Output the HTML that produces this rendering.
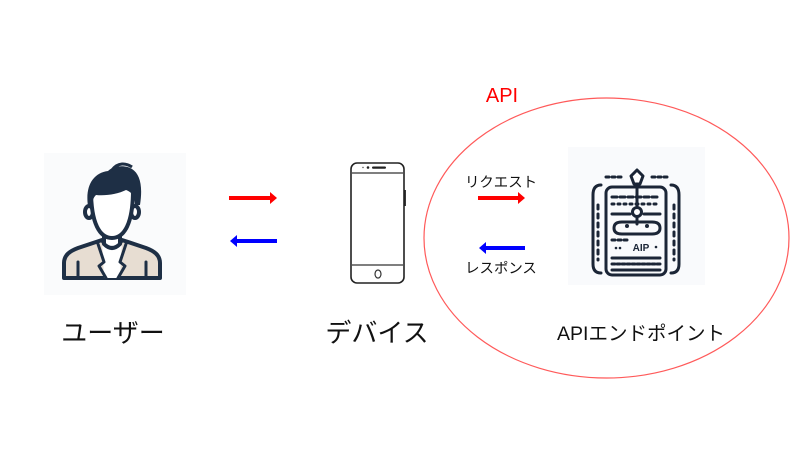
<!DOCTYPE html>
<html><head><meta charset="utf-8"><style>
html,body{margin:0;padding:0;background:#fff;}
body{width:800px;height:450px;overflow:hidden;position:relative;font-family:"Liberation Sans","Noto Sans CJK JP",sans-serif;}
</style></head><body>
<svg width="800" height="450" viewBox="0 0 800 450" xmlns="http://www.w3.org/2000/svg" style="position:absolute;left:0;top:0">
<!-- ellipse -->
<ellipse cx="606.5" cy="238" rx="182.5" ry="140" fill="none" stroke="#ff5a5a" stroke-width="1.2"/>
<text x="502" y="102" font-family="Liberation Sans, sans-serif" font-size="20" fill="#ff0000" text-anchor="middle">API</text>

<!-- user icon -->
<rect x="44" y="153" width="142" height="142" fill="#fafbfc"/>
<g stroke="#1e2f45" stroke-width="4" stroke-linejoin="round" stroke-linecap="round">
  <path d="M64,278 L64,263 C64,255 70,251 78,248 L102,240 L112,256 L122,240 L146,248 C154,251 160,255 160,263 L160,278 Z" fill="#e7ddd2"/>
  <path d="M102,240 Q112,254 122,240 L120,278 L104,278 Z" fill="#ffffff" stroke="none"/>
  <path d="M104,230 L104,244 Q112,252 120,244 L120,230" fill="#ffffff"/>
  <path d="M98,244 L104,262 L99,266 L106,278" fill="none" stroke-width="3"/>
  <path d="M126,244 L120,262 L125,266 L118,278" fill="none" stroke-width="3"/>
  <path d="M78,262 L78,278 M146,262 L146,278" fill="none" stroke-width="3"/>
  <ellipse cx="89" cy="212" rx="4" ry="6" fill="#fff"/>
  <ellipse cx="135" cy="212" rx="4" ry="6" fill="#fff"/>
  <path d="M91,190 C91,224 100,238 112,238 C124,238 133,224 133,190" fill="#ffffff"/>
</g>
<path d="M88,206 C85,186 93,173 108,171 C114,165 126,165 132,169 C140,174 143,186 140,205 L135,205 C135,197 132,192 126,190 C118,194 106,196 96,195 C93,198 92,202 92,206 Z" fill="#1e2f45"/>
<path d="M112,170 C118,162 126,163 132,167" fill="none" stroke="#1e2f45" stroke-width="3"/>

<!-- phone -->
<rect x="351" y="163" width="53" height="120" rx="6" fill="#fff" stroke="#222" stroke-width="1.6"/>
<line x1="352" y1="173" x2="403" y2="173" stroke="#333" stroke-width="1.2"/>
<line x1="352" y1="265" x2="403" y2="265" stroke="#333" stroke-width="1.2"/>
<circle cx="368" cy="167.5" r="1.3" fill="#222"/>
<circle cx="363" cy="167.5" r="0.7" fill="#444"/>
<rect x="372" y="166.5" width="14" height="2.2" rx="1.1" fill="#222"/>
<ellipse cx="378" cy="274" rx="3" ry="4" fill="none" stroke="#333" stroke-width="1.2"/>
<line x1="405" y1="190" x2="405" y2="206" stroke="#222" stroke-width="1.8"/>

<!-- arrows left -->
<rect x="229" y="196" width="42" height="4" fill="#ff0000"/>
<polygon points="270,192 277,198 270,204" fill="#ff0000"/>
<rect x="236" y="239" width="41" height="4" fill="#0000ff"/>
<polygon points="237,235 230,241 237,247" fill="#0000ff"/>

<!-- arrows right -->
<rect x="478" y="196" width="41" height="4" fill="#ff0000"/>
<polygon points="518,192 525,198 518,204" fill="#ff0000"/>
<rect x="485" y="246" width="40" height="4" fill="#0000ff"/>
<polygon points="486,242 479,248 486,254" fill="#0000ff"/>
<text x="501" y="187" font-family="Liberation Sans, Noto Sans CJK JP, sans-serif" font-size="14.4" fill="#111" text-anchor="middle">リクエスト</text>
<text x="501" y="273" font-family="Liberation Sans, Noto Sans CJK JP, sans-serif" font-size="14.4" fill="#111" text-anchor="middle">レスポンス</text>

<!-- API icon -->
<rect x="568" y="147" width="137" height="138" fill="#f9fafc"/>
<g stroke="#1b2536" fill="none" stroke-width="3" stroke-linecap="round">
  <path d="M601,185 Q593,185 593,195 L593,264 Q593,273 601,273"/>
  <path d="M671,185 Q679,185 679,195 L679,264 Q679,273 671,273"/>
  <rect x="606" y="187" width="60" height="88" rx="6"/>
  <path d="M598,205 L598,260" stroke-dasharray="4 5"/>
  <path d="M674,205 L674,260" stroke-dasharray="4 5"/>
  <path d="M606,177 L622,177 M652,177 L668,177" stroke-dasharray="3 3"/>
  <path d="M612,197 L660,197" stroke-dasharray="5 3"/>
  <path d="M612,204 L660,204" stroke-dasharray="2 4"/>
  <path d="M637,187 L637,207"/>
  <circle cx="637" cy="212" r="4.5" fill="#fff"/>
  <path d="M612,214 L630,214 M644,214 L660,214"/>
  <path d="M637,217 L637,224"/>
  <path d="M622,222 Q614,222 614,228 Q614,234 622,234 L652,234 Q660,234 660,228 Q660,222 652,222 Z"/>
  <path d="M612,240 L628,240" stroke-dasharray="3 3"/>
  <path d="M612,258 L660,258"/>
  <path d="M612,264 L660,264" stroke-dasharray="3 2"/>
  <path d="M612,270 L660,270"/>
</g>
<circle cx="627" cy="226" r="2" fill="#1b2536"/>
<circle cx="647" cy="226" r="2" fill="#1b2536"/>
<path d="M637,170 L643,176 L640,184 L634,184 L631,176 Z" fill="#fff" stroke="#1b2536" stroke-width="3" stroke-linejoin="round"/>
<text x="641" y="251" font-family="Liberation Sans, sans-serif" font-size="10" font-weight="bold" fill="#1b2536" text-anchor="middle">AIP</text>
<circle cx="616" cy="248" r="1.3" fill="#1b2536"/>
<circle cx="620" cy="248" r="1.3" fill="#1b2536"/>
<circle cx="656" cy="247" r="1.3" fill="#1b2536"/>

<!-- labels -->
<text x="113" y="342" font-family="Liberation Sans, Noto Sans CJK JP, sans-serif" font-size="26" fill="#111" text-anchor="middle">ユーザー</text>
<text x="377" y="342" font-family="Liberation Sans, Noto Sans CJK JP, sans-serif" font-size="26" fill="#111" text-anchor="middle">デバイス</text>
<text x="641" y="340" font-family="Liberation Sans, Noto Sans CJK JP, sans-serif" font-size="19.5" fill="#111" text-anchor="middle">APIエンドポイント</text>
</svg>
</body></html>
